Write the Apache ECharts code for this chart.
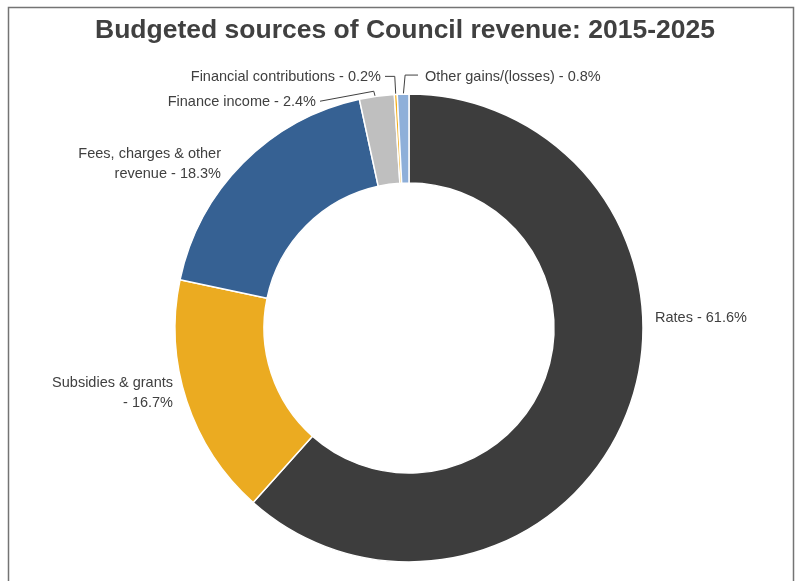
<!DOCTYPE html>
<html>
<head>
<meta charset="utf-8">
<script src="https://cdn.jsdelivr.net/npm/echarts@6/dist/echarts.min.js"></script>
<style>
  html, body { margin: 0; padding: 0; background: #ffffff; }
  #chart { width: 796px; height: 581px; }
</style>
</head>
<body>
<div id="chart"></div>
<script>
// Revenue sources, clockwise from 12 o'clock
const categories = [
  'Rates',
  'Subsidies & grants',
  'Fees, charges & other revenue',
  'Finance income',
  'Financial contributions',
  'Other gains/(losses)'
];
const shares = [61.6, 16.7, 18.3, 2.4, 0.2, 0.8];
const colors = ['#3d3d3d', '#ebab21', '#366193', '#bfbfbf', '#f2ae1c', '#8eafd9'];

// Label text: character index where a label wraps onto a second line (0 = single line)
const wrapAt = [0, 18, 21, 0, 0, 0];
// Label anchor [x, y, align] and leader-line elbow offsets (relative to the slice edge point)
const labelAnchor = [
  [655, 318, 'left'],
  [173, 393, 'right'],
  [221, 164, 'right'],
  [316, 102, 'right'],
  [381, 77, 'right'],
  [425, 77, 'left']
];
const leaderElbow = [null, null, null, [-3, -5], [-1, -18], [2, -19]];
const leaderInset = [0, 0, 0, 6, 1, 3];

const chart = echarts.init(document.getElementById('chart'), null, { renderer: 'canvas' });

const data = categories.map((name, i) => ({
  name,
  value: shares[i],
  itemStyle: { color: colors[i] },
  labelLine: { show: leaderElbow[i] != null }
}));

chart.setOption({
  animation: false,
  backgroundColor: '#ffffff',
  title: {
    text: 'Budgeted sources of Council revenue: 2015-2025',
    left: 90,
    top: 12,
    textStyle: {
      fontFamily: 'Liberation Sans, Arial, sans-serif',
      fontSize: 26.5,
      fontWeight: 'bold',
      color: '#404040'
    }
  },
  graphic: [{
    type: 'rect',
    silent: true,
    shape: { x: 8.5, y: 7.5, width: 785, height: 620 },
    style: { fill: null, stroke: '#747474', lineWidth: 1.5 }
  }],
  series: [{
    type: 'pie',
    center: [409, 328],
    radius: [145, 234],
    startAngle: 90,
    clockwise: true,
    avoidLabelOverlap: false,
    emphasis: { disabled: true },
    itemStyle: { borderColor: '#ffffff', borderWidth: 1.5 },
    label: {
      show: true,
      position: 'outside',
      fontFamily: 'Liberation Sans, Arial, sans-serif',
      fontSize: 14.5,
      lineHeight: 20,
      color: '#404040',
      formatter: p => {
        const t = `${p.name} - ${p.value.toFixed(1)}%`;
        const w = wrapAt[p.dataIndex];
        return w ? t.slice(0, w).trimEnd() + '\n' + t.slice(w).trimStart() : t;
      }
    },
    labelLine: {
      length: 10,
      length2: 10,
      lineStyle: { color: '#404040', width: 1 }
    },
    labelLayout: params => {
      const i = params.dataIndex;
      const a = labelAnchor[i];
      const out = { x: a[0], y: a[1], align: a[2], verticalAlign: 'middle' };
      const elbow = leaderElbow[i];
      if (elbow && params.labelLinePoints) {
        const p0 = params.labelLinePoints[0];
        const start = [p0[0], p0[1] + leaderInset[i]];
        const corner = [p0[0] + elbow[0], p0[1] + elbow[1]];
        const endX = a[2] === 'right' ? a[0] + 4 : a[0] - 7;
        out.labelLinePoints = [start, corner, [endX, corner[1] + (i === 3 ? 10 : 0)]];
      }
      return out;
    },
    data
  }]
});
</script>
</body>
</html>
